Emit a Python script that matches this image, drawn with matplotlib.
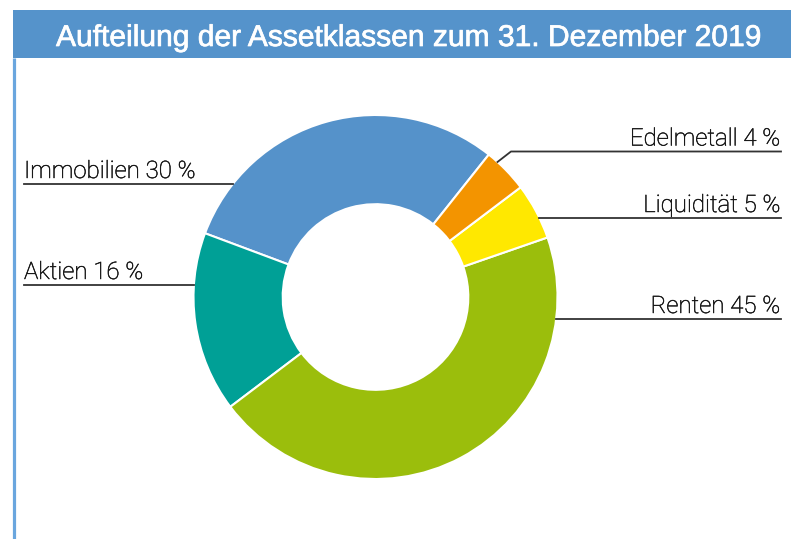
import matplotlib
matplotlib.use("Agg")
import matplotlib.pyplot as plt
import matplotlib.patheffects as pe
import numpy as np
from matplotlib.patches import Rectangle

# ---- data ----
categories = ["Immobilien", "Aktien", "Renten", "Liquidität", "Edelmetall"]
values = [30, 16, 45, 5, 4]
colors = ["#5592CA", "#00A096", "#9BBE0C", "#FFE800", "#F39400"]
title = "Aufteilung der Assetklassen zum 31. Dezember 2019"
label_texts = [f"{c} {v} %" for c, v in zip(categories, values)]

W, H = 791, 539
fig = plt.figure(figsize=(W / 100, H / 100), dpi=100)
ax = fig.add_axes([0, 0, 1, 1])

def py(y):  # pixel-from-top -> data y
    return H - y

# donut
cx, cy, R = 375.5, py(297), 182
wedges, _ = ax.pie(values, colors=colors, startangle=51.5, counterclock=True,
                   radius=R, center=(cx, cy), frame=True,
                   wedgeprops=dict(width=R * 0.49, edgecolor="white", linewidth=1.5))
ax.set_xlim(0, W)
ax.set_ylim(0, H)
ax.set_aspect("equal")
ax.axis("off")

# title bar and border
ax.add_patch(Rectangle((13, py(58)), W - 13, 48, color="#5593CB", lw=0, zorder=1))
ax.plot([14.2, 14.2], [py(58), 0], color="#6AA6DE", lw=2.3, solid_capstyle="butt", zorder=1)
ax.text(56, py(46), title, color="white", fontsize=21.6, family="Liberation Sans",
        ha="left", va="baseline", zorder=2,
        path_effects=[pe.withStroke(linewidth=0.5, foreground="white")])

lab_font = dict(family="Roboto", fontweight="light", fontsize=17.3, color="#151515",
                path_effects=[pe.withStroke(linewidth=0.35, foreground="#151515")])
line_kw = dict(color="#333333", lw=1.3, zorder=3)
gap = 6.0

# left labels: (index, line y px)
left_specs = [(0, 184), (1, 285)]
for i, ly in left_specs:
    dy = cy - py(ly)
    xe = cx - np.sqrt(R**2 - dy**2)
    ax.plot([24, xe], [py(ly), py(ly)], **line_kw)
    ax.text(24, py(ly - gap), label_texts[i], ha="left", va="baseline", **lab_font)

# right labels
right_specs = [(2, 319), (3, 218)]
for i, ly in right_specs:
    dy = cy - py(ly)
    xe = cx + np.sqrt(R**2 - dy**2)
    ax.plot([xe, 781], [py(ly), py(ly)], **line_kw)
    ax.text(780, py(ly - gap), label_texts[i], ha="right", va="baseline", **lab_font)

# Edelmetall with elbow
w = wedges[4]
ang = np.deg2rad(w.theta1 + 0.75 * (w.theta2 - w.theta1))
sx, sy = cx + R * np.cos(ang), cy + R * np.sin(ang)
ax.plot([sx, 511, 781], [sy, py(151.5), py(151.5)], **line_kw)
ax.text(780, py(151.5 - gap), label_texts[4], ha="right", va="baseline", **lab_font)

fig.savefig("out.png", dpi=100)
